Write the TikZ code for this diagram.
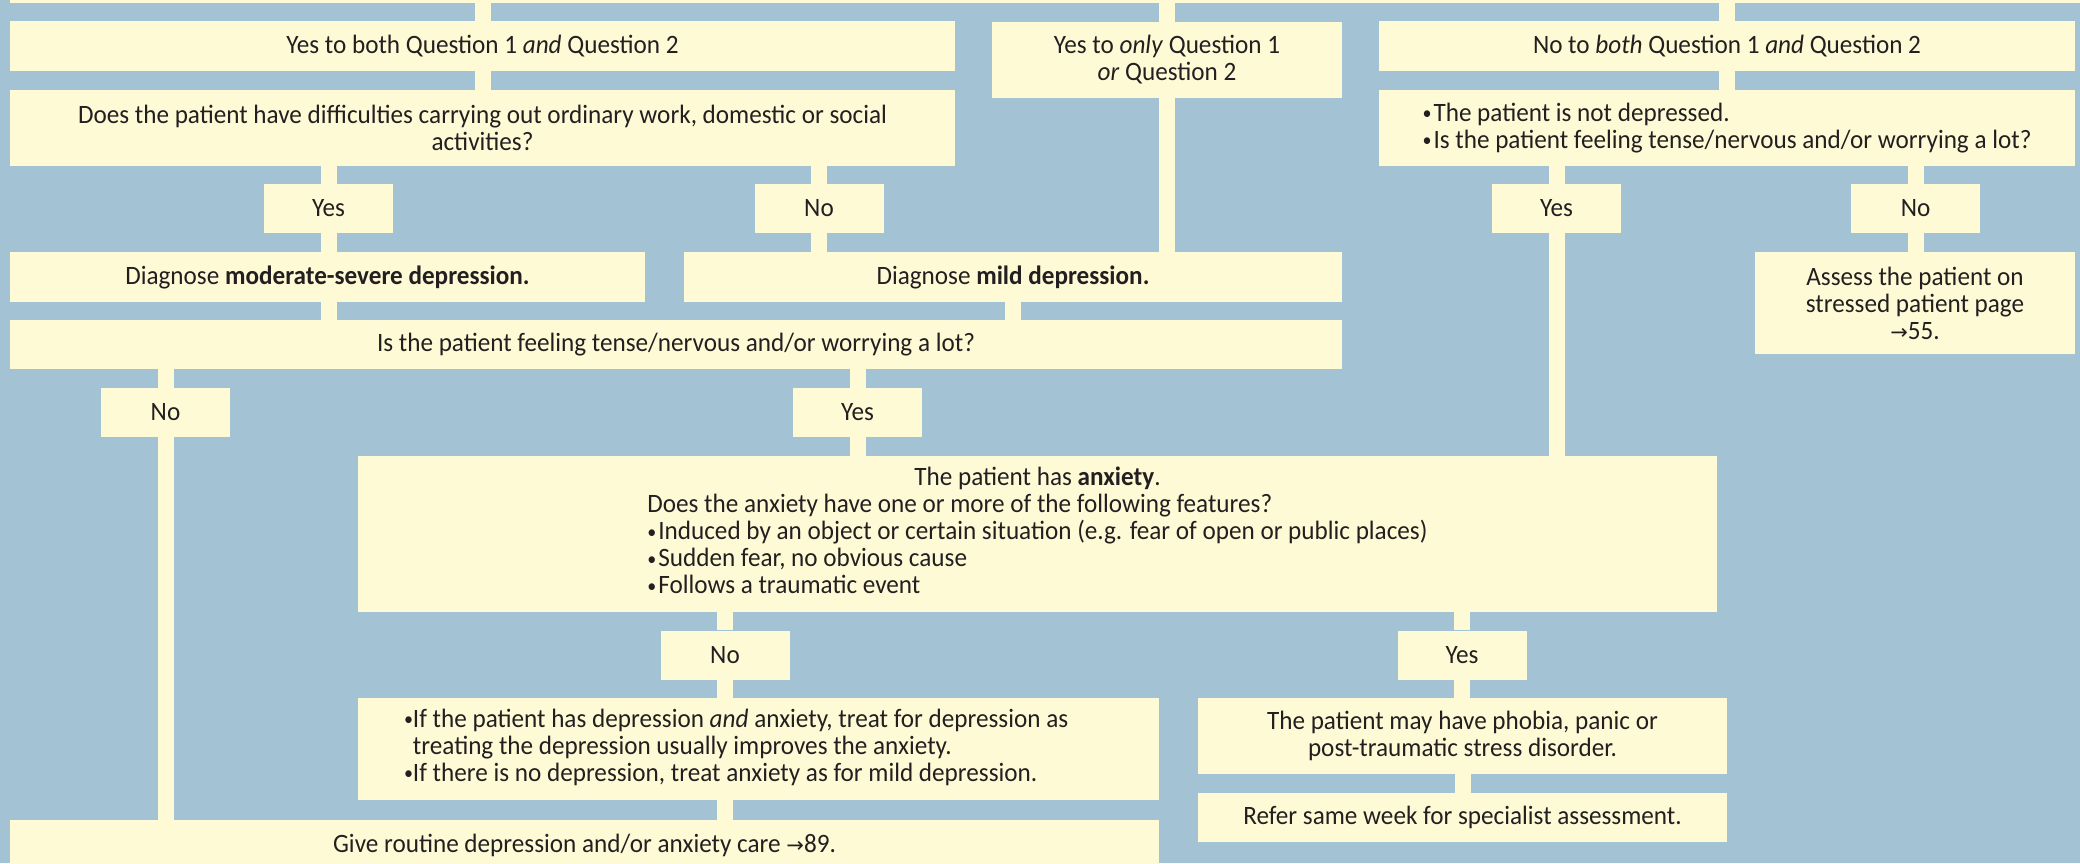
\documentclass[tikz,border=0pt]{standalone}
\usepackage{fontspec}
\setmainfont{Carlito}[FakeStretch=0.95]
\newfontfamily\arrowfont{DejaVu Sans}
\usetikzlibrary{positioning}
\definecolor{bgBlue}{RGB}{163,194,211}
\definecolor{boxYellow}{RGB}{255,250,214}
\definecolor{textDark}{RGB}{35,31,32}
\newcommand{\seepg}[1]{{\arrowfont\fontsize{21}{27}\selectfont →}#1}
\newcommand{\bul}{\raisebox{1.5pt}{\fontsize{19}{19}\selectfont•}\hspace{2pt}}

\tikzset{
    box/.style={fill=boxYellow, inner sep=0pt, align=center, text=textDark, font=\fontsize{26.5}{27}\selectfont},
    answer/.style={box, minimum width=129, minimum height=49},
    link/.style={draw=boxYellow, line width=16pt}
}

\begin{document}
\begin{tikzpicture}[x=1pt, y=-1pt]
    \fill[bgBlue] (0,0) rectangle (2080,863);
    \useasboundingbox (0,0) rectangle (2080,863);

    % questions 1 and 2
    \node[box, minimum width=2070, minimum height=3] (top) at (1045,1.5) {};
    \node[box, minimum width=945, minimum height=50] (q12both) at (482.5,46) {Yes to both Question 1 \textit{and} Question 2};
    \node[box, minimum width=350, minimum height=76] (q1or2) at (1167,60) {Yes to \textit{only} Question 1\\\textit{or} Question 2};
    \node[box, minimum width=696, minimum height=50] (qnone) at (1727,46) {No to \textit{both} Question 1 \textit{and} Question 2};

    \node[box, minimum width=945, minimum height=76] (difficult) at (482.5,128) {Does the patient have difficulties carrying out ordinary work, domestic or social\\activities?};
    \node[box, minimum width=696, minimum height=76, align=left] (notdep) at (1727,128) {\bul The patient is not depressed.\\\bul Is the patient feeling tense/nervous and/or worrying a lot?};

    \node[answer] (yes1) at (328.5,208.5) {Yes};
    \node[answer] (no1) at (819,208.5) {No};
    \node[answer] (yes2) at (1556.5,208.5) {Yes};
    \node[answer] (no2) at (1915.5,208.5) {No};

    % diagnosis
    \node[box, minimum width=635, minimum height=50] (modsev) at (327.5,277) {Diagnose \textbf{moderate-severe depression.}};
    \node[box, minimum width=658, minimum height=50] (mild) at (1013,277) {Diagnose \textbf{mild depression.}};
    \node[box, minimum width=320, minimum height=102] (assess) at (1915,303) {Assess the patient on\\stressed patient page\\\seepg{55}.};

    \node[box, minimum width=1332, minimum height=49] (tense) at (676,344.5) {Is the patient feeling tense/nervous and/or worrying a lot?};
    \node[answer] (no3) at (165.5,412.5) {No};
    \node[answer] (yes3) at (857.5,412.5) {Yes};

    % anxiety
    \node[box, minimum width=1359, minimum height=156] (anxiety) at (1037.5,534) {\begin{tabular}{@{}l@{}}
        \multicolumn{1}{@{}c@{}}{The patient has \textbf{anxiety}.}\\
        Does the anxiety have one or more of the following features?\\
        \bul Induced by an object or certain situation (e.g. fear of open or public places)\\
        \bul Sudden fear, no obvious cause\\
        \bul Follows a traumatic event
    \end{tabular}};
    \node[answer] (no4) at (725,655) {No};
    \node[answer] (yes4) at (1462,655) {Yes};

    \node[box, minimum width=801, minimum height=102] (treat) at (758.5,749) {\makebox[709pt][l]{\begin{tabular}{@{}l@{}l@{}}
        \bul & If the patient has depression \textit{and} anxiety, treat for depression as\\
        & treating the depression usually improves the anxiety.\\
        \bul & If there is no depression, treat anxiety as for mild depression.
    \end{tabular}}};
    \node[box, minimum width=529, minimum height=76] (phobia) at (1462.5,736) {The patient may have phobia, panic or\\post-traumatic stress disorder.};
    \node[box, minimum width=529, minimum height=49] (refer) at (1462.5,817.5) {Refer same week for specialist assessment.};
    \node[box, minimum width=1149, minimum height=50] (routine) at (584.5,845) {Give routine depression and/or anxiety care \seepg{89}.};

    % connectors
    \draw[link] (top.south -| q12both) -- (q12both.north);
    \draw[link] (top.south -| q1or2) -- (q1or2.north);
    \draw[link] (top.south -| qnone) -- (qnone.north);
    \draw[link] (q12both.south) -- (difficult.north);
    \draw[link] (difficult.south -| yes1) -- (yes1.north);
    \draw[link] (difficult.south -| no1) -- (no1.north);
    \draw[link] (yes1.south) -- (yes1 |- modsev.north);
    \draw[link] (no1.south) -- (no1 |- mild.north);
    \draw[link] (q1or2.south) -- (q1or2 |- mild.north);
    \draw[link] (qnone.south) -- (notdep.north);
    \draw[link] (notdep.south -| yes2) -- (yes2.north);
    \draw[link] (notdep.south -| no2) -- (no2.north);
    \draw[link] (no2.south) -- (no2 |- assess.north);
    \draw[link] (yes2.south) -- (yes2 |- anxiety.north);
    \draw[link] (modsev.south -| yes1) -- (yes1 |- tense.north);
    \draw[link] (mild.south) -- (mild |- tense.north);
    \draw[link] (tense.south -| no3) -- (no3.north);
    \draw[link] (tense.south -| yes3) -- (yes3.north);
    \draw[link] (yes3.south) -- (yes3 |- anxiety.north);
    \draw[link] (no3.south) -- (no3 |- routine.north);
    \draw[link] (anxiety.south -| no4) -- (no4.north);
    \draw[link] (anxiety.south -| yes4) -- (yes4.north);
    \draw[link] (no4.south) -- (no4 |- treat.north);
    \draw[link] (treat.south -| no4) -- (no4 |- routine.north);
    \draw[link] (yes4.south) -- (yes4 |- phobia.north);
    \draw[link] (phobia.south) -- (refer.north);
\end{tikzpicture}
\end{document}
